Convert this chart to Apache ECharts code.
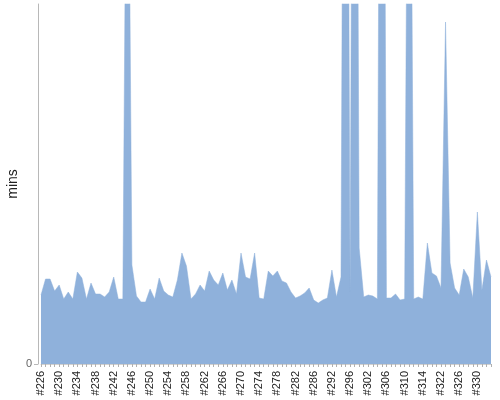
<!DOCTYPE html>
<html>
<head>
<meta charset="utf-8">
<script src="https://cdn.jsdelivr.net/npm/echarts@6/dist/echarts.min.js"></script>
<style>html,body{margin:0;padding:0;background:#fff;}#c{width:500px;height:400px;}</style>
</head>
<body>
<div id="c"></div>
<script>
var categories = [
  '#226','#227','#228','#229','#230','#231','#232','#233','#234','#235',
  '#236','#237','#238','#239','#240','#241','#242','#243','#244','#245',
  '#246','#247','#248','#249','#250','#251','#252','#253','#254','#255',
  '#256','#257','#258','#259','#260','#261','#262','#263','#264','#265',
  '#266','#267','#268','#269','#270','#271','#272','#273','#274','#275',
  '#276','#277','#278','#279','#280','#281','#282','#283','#284','#285',
  '#286','#287','#289','#290','#292','#293','#294','#295','#296','#297',
  '#299','#301','#302','#303','#304','#305','#306','#307','#308','#309',
  '#310','#311','#312','#313','#314','#316','#318','#320','#322','#323',
  '#324','#325','#326','#327','#328','#329','#330','#331','#332','#333'
];
var minsValues = [
  69, 85, 85, 73, 79, 65, 72, 65, 92, 86,
  65, 81, 70, 70, 67, 72, 87, 65, 65, 700,
  99, 68, 62, 62, 75, 65, 86, 73, 69, 67,
  84, 111, 98, 65, 70, 79, 73, 93, 84, 79,
  91, 74, 84, 70, 111, 87, 85, 111, 66, 65,
  93, 88, 93, 83, 81, 72, 66, 68, 71, 76,
  64, 61, 64, 66, 94, 67, 87, 1200, 72, 1200,
  116, 67, 69, 68, 65, 1200, 66, 66, 70, 64,
  65, 850, 65, 67, 65, 121, 91, 88, 76, 342,
  101, 76, 69, 95, 87, 66, 152, 74, 104, 87
];
var yMax = 360;
var yTickValues = [0];

var chart = echarts.init(document.getElementById('c'), null, {renderer: 'canvas'});
chart.setOption({
  animation: false,
  backgroundColor: '#ffffff',
  grid: {left: 41, right: 9, top: 4, bottom: 36, containLabel: false, outerBoundsMode: 'none'},
  xAxis: {
    type: 'category',
    data: categories,
    boundaryGap: false,
    offset: 3,
    axisLine: {show: true, lineStyle: {color: '#d0d0d0', width: 1}},
    axisTick: {show: true, interval: 0, length: 3, lineStyle: {color: '#b0b0b0'}},
    axisLabel: {
      interval: 3, rotate: 90, color: '#222', fontSize: 11,
      fontFamily: 'Liberation Sans, Arial, sans-serif', margin: 4
    },
    splitLine: {show: false}
  },
  yAxis: {
    type: 'value',
    min: 0, max: yMax, interval: yMax,
    offset: 3,
    name: 'mins',
    nameLocation: 'middle',
    nameRotate: 90,
    nameGap: 18,
    nameMoveOverlap: false,
    nameTextStyle: {color: '#222', fontSize: 14, fontFamily: 'Liberation Sans, Arial, sans-serif'},
    axisLine: {show: true, lineStyle: {color: '#b8b8b8', width: 1}},
    axisTick: {show: true, length: 4, customValues: yTickValues, lineStyle: {color: '#b8b8b8'}},
    axisLabel: {
      color: '#666', fontSize: 11, fontFamily: 'Liberation Sans, Arial, sans-serif', margin: 6,
      formatter: function (v) { return v === 0 ? '0' : ''; }
    },
    splitLine: {show: false}
  },
  series: [{
    type: 'line',
    data: minsValues,
    symbol: 'none',
    clip: true,
    lineStyle: {width: 0.5, color: '#8fb1db'},
    areaStyle: {color: '#8fb1db', opacity: 1},
    itemStyle: {color: '#8fb1db'}
  }]
});
</script>
</body>
</html>
